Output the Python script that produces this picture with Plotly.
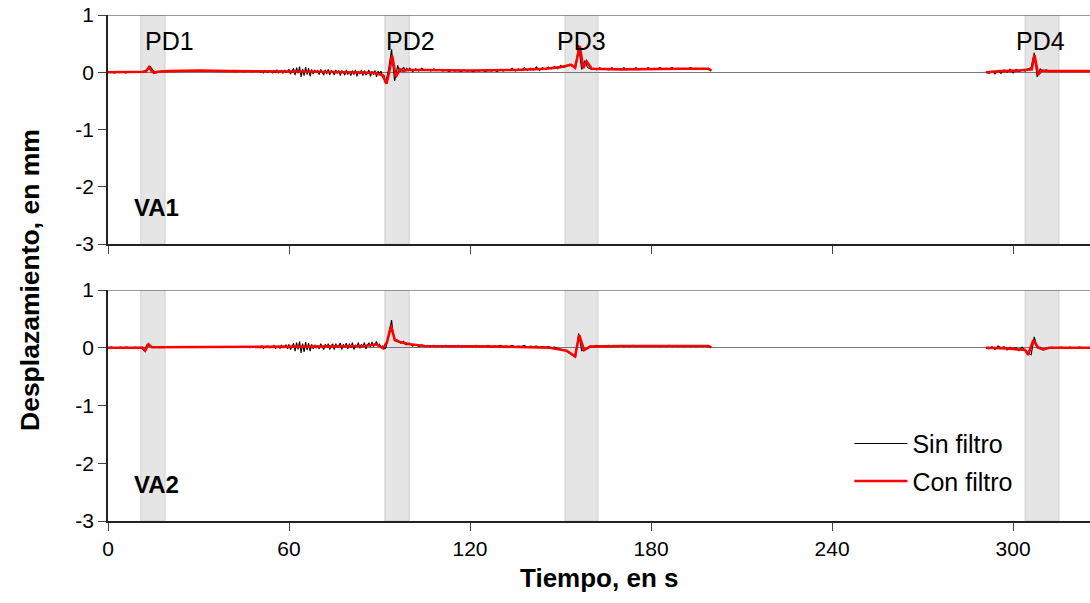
import numpy as np
import plotly.graph_objects as go
from plotly.subplots import make_subplots

FONT = "Liberation Sans, Arial, sans-serif"

# Sampling grid of the unfiltered records: 1 s, densified to 0.5 s between 50 and 100 s,
# with a second acquisition block after the pause
t_raw_a = np.concatenate([np.arange(0, 50, 1.0), np.arange(50, 100, 0.5), np.arange(100, 201, 1.0)])
t_raw_b = np.arange(291, 327, 1.0)

# VA1, unfiltered displacement (mm)
va1_raw_a = [
    # 0-49 s
    0.00, 0.01, -0.01, 0.00, 0.01, 0.00, -0.01, 0.01, 0.00, 0.00,
    0.00, 0.01, 0.02, 0.05, 0.10, 0.03, -0.01, 0.01, 0.02, 0.01,
    0.02, 0.02, 0.01, 0.02, 0.02, 0.03, 0.02, 0.03, 0.03, 0.02,
    0.03, 0.03, 0.02, 0.03, 0.03, 0.02, 0.02, 0.03, 0.02, 0.02,
    0.02, 0.02, 0.01, 0.02, 0.02, 0.01, 0.02, 0.02, 0.01, 0.02,
    # 50-99.5 s
    0.03, 0.00, 0.02, -0.01, 0.03, 0.01, 0.00, 0.03, 0.02, -0.01,
    0.03, 0.00, 0.04, -0.01, 0.02, 0.03, -0.02, 0.04, 0.00, 0.02,
    0.05, -0.03, 0.03, 0.07, -0.05, 0.08, -0.02, 0.10, -0.08, 0.06,
    -0.06, 0.09, -0.04, 0.07, -0.07, 0.05, -0.03, 0.04, 0.00, 0.03,
    -0.04, 0.05, 0.00, -0.05, 0.04, -0.03, 0.05, -0.05, 0.03, 0.01,
    -0.05, 0.04, -0.02, 0.03, -0.06, 0.03, 0.00, -0.05, 0.04, -0.04,
    0.02, -0.06, 0.03, -0.04, 0.04, -0.07, 0.02, -0.03, 0.04, -0.06,
    0.03, -0.05, -0.02, 0.04, -0.07, 0.02, -0.04, 0.03, -0.08, 0.02,
    -0.03, 0.02, -0.08, -0.05, -0.20, -0.10, 0.05, 0.22, 0.40, 0.10,
    -0.15, -0.05, 0.12, 0.04, 0.02, 0.06, 0.08, 0.03, 0.07, 0.03,
    # 100-200 s
    0.07, 0.01, 0.06, 0.02, 0.07, 0.03, 0.05, 0.02, 0.06, 0.03,
    0.05, 0.02, 0.04, 0.01, 0.04, 0.02, 0.03, 0.01, 0.04, 0.02,
    0.03, 0.01, 0.03, 0.02, 0.04, 0.01, 0.03, 0.02, 0.04, 0.01,
    0.05, 0.02, 0.05, 0.03, 0.07, 0.02, 0.06, 0.03, 0.08, 0.03,
    0.07, 0.04, 0.09, 0.03, 0.08, 0.05, 0.09, 0.06, 0.10, 0.06,
    0.12, 0.08, 0.11, 0.14, 0.10, 0.08, 0.47, 0.05, 0.20, 0.08,
    0.06, 0.07, 0.04, 0.08, 0.05, 0.07, 0.04, 0.08, 0.05, 0.07,
    0.05, 0.08, 0.04, 0.07, 0.05, 0.08, 0.04, 0.07, 0.05, 0.08,
    0.05, 0.07, 0.06, 0.08, 0.05, 0.07, 0.06, 0.08, 0.05, 0.07,
    0.06, 0.07, 0.05, 0.08, 0.06, 0.07, 0.05, 0.07, 0.06, 0.07,
    0.03,
]
va1_raw_b = [
    0.00, -0.02, 0.02, -0.03, 0.03, -0.02, 0.04, 0.00, 0.05, -0.01,
    0.05, 0.01, 0.04, 0.02, 0.06, 0.08, 0.34, -0.08, 0.06, 0.02,
    0.04, 0.01, 0.03, 0.02, 0.03, 0.01, 0.03, 0.02, 0.03, 0.01,
    0.03, 0.02, 0.03, 0.01, 0.03, 0.02,
]

# VA2, unfiltered displacement (mm)
va2_raw_a = [
    # 0-49 s
    0.00, 0.01, 0.00, -0.01, 0.01, 0.00, 0.01, 0.00, -0.01, 0.01,
    0.00, 0.01, -0.05, 0.06, 0.02, 0.01, 0.02, 0.00, 0.01, 0.01,
    0.01, 0.01, 0.00, 0.01, 0.01, 0.01, 0.00, 0.01, 0.01, 0.00,
    0.01, 0.00, 0.01, 0.01, 0.00, 0.01, 0.01, 0.00, 0.01, 0.01,
    0.01, 0.00, 0.01, 0.01, 0.00, 0.01, 0.02, 0.00, 0.01, 0.02,
    # 50-99.5 s
    0.02, 0.00, 0.03, -0.01, 0.02, 0.01, 0.03, 0.00, 0.02, 0.01,
    0.04, -0.01, 0.02, 0.03, -0.01, 0.04, 0.00, 0.02, 0.05, -0.02,
    0.06, -0.03, 0.04, 0.08, -0.06, 0.09, -0.03, 0.11, -0.09, 0.07,
    -0.07, 0.10, -0.04, 0.08, -0.06, 0.06, -0.02, 0.05, 0.00, 0.04,
    -0.02, 0.07, 0.02, -0.03, 0.06, 0.00, 0.07, -0.03, 0.04, 0.06,
    -0.03, 0.07, 0.00, 0.04, 0.08, -0.03, 0.06, 0.01, 0.08, -0.02,
    0.07, 0.00, 0.09, -0.03, 0.05, 0.02, 0.09, -0.01, 0.06, 0.02,
    0.09, -0.02, 0.05, 0.08, 0.01, 0.10, 0.02, 0.06, 0.11, 0.03,
    0.06, 0.01, 0.03, -0.02, -0.01, 0.08, 0.20, 0.35, 0.48, 0.25,
    0.15, 0.14, 0.13, 0.10, 0.08, 0.09, 0.11, 0.06, 0.05, 0.07,
    # 100-200 s
    0.08, 0.03, 0.06, 0.02, 0.05, 0.02, 0.04, 0.02, 0.04, 0.02,
    0.03, 0.02, 0.04, 0.02, 0.03, 0.02, 0.04, 0.02, 0.03, 0.02,
    0.03, 0.02, 0.04, 0.02, 0.03, 0.02, 0.04, 0.01, 0.03, 0.02,
    0.04, 0.02, 0.03, 0.02, 0.04, 0.01, 0.03, 0.02, 0.04, 0.01,
    0.03, 0.02, 0.03, 0.01, 0.02, 0.01, 0.02, 0.00, 0.01, -0.01,
    -0.02, -0.04, -0.06, -0.09, -0.13, -0.16, 0.25, -0.05, -0.02, 0.01,
    0.03, 0.02, 0.04, 0.02, 0.03, 0.02, 0.04, 0.02, 0.03, 0.02,
    0.03, 0.02, 0.03, 0.02, 0.04, 0.02, 0.03, 0.02, 0.03, 0.02,
    0.03, 0.02, 0.03, 0.02, 0.03, 0.02, 0.04, 0.02, 0.03, 0.02,
    0.03, 0.02, 0.03, 0.02, 0.03, 0.02, 0.03, 0.02, 0.03, 0.02,
    0.01,
]
va2_raw_b = [
    0.00, -0.02, 0.02, -0.03, 0.03, 0.00, 0.02, -0.04, 0.01, -0.02,
    0.00, -0.05, 0.01, -0.04, -0.10, -0.12, 0.19, 0.00, 0.01, -0.04,
    0.00, -0.01, 0.01, -0.01, 0.00, 0.01, -0.01, 0.00, 0.01, -0.01,
    0.00, 0.01, 0.00, -0.01, 0.00, 0.00,
]

# Filtered records: time (s) and displacement (mm)
va1_filt_t_a = [0, 10, 12.5, 13.6, 14.5, 15.2, 16.5, 20, 30, 40, 50, 60, 70, 80,
                88, 91, 92.3, 93.2, 94.2, 95.4, 96.8, 97.8, 99, 105, 120, 135,
                145, 150, 153.6, 154.8, 156.4, 157.5, 158.6, 160.3, 170, 190, 199, 200]
va1_filt_y_a = [0.00, 0.00, 0.01, 0.09, 0.02, -0.01, 0.01, 0.02, 0.03, 0.02, 0.02, 0.02,
                0.01, 0.00, -0.01, -0.05, -0.20, 0.00, 0.29, -0.08, 0.05, 0.02, 0.04,
                0.04, 0.03, 0.04, 0.06, 0.09, 0.13, 0.08, 0.46, 0.07, 0.19, 0.06,
                0.05, 0.06, 0.06, 0.03]
va1_filt_t_b = [291, 296, 302, 305, 306.2, 307.1, 308.3, 309.5, 312, 326]
va1_filt_y_b = [0.00, 0.02, 0.03, 0.04, 0.05, 0.30, -0.04, 0.03, 0.02, 0.02]

va2_filt_t_a = [0, 10, 11.5, 12.3, 13.4, 14.5, 20, 50, 70, 85, 89, 91.2, 92.5, 93.8,
                95.1, 96.8, 100, 105, 130, 146.5, 152, 154.8, 156.2, 157.8, 159.8,
                170, 199, 200]
va2_filt_y_a = [0.00, 0.00, 0.00, -0.05, 0.06, 0.01, 0.01, 0.01, 0.02, 0.03, 0.06,
                -0.01, 0.10, 0.38, 0.13, 0.10, 0.06, 0.03, 0.02, 0.00, -0.05, -0.15,
                0.22, -0.04, 0.02, 0.03, 0.03, 0.01]
va2_filt_t_b = [291, 298, 302, 304, 305, 306.7, 308.3, 310, 312, 326]
va2_filt_y_b = [0.00, -0.01, -0.03, -0.04, -0.12, 0.13, 0.00, -0.03, 0.00, 0.00]

# Discharge windows (s) and their labels
pd_labels = ["PD1", "PD2", "PD3", "PD4"]
pd_start = [10.9, 91.8, 151.5, 304.0]
pd_end = [18.9, 99.8, 162.4, 315.2]
pd_label_x = [20.5, 100.4, 156.8, 309.2]

x_ticks = [0, 60, 120, 180, 240, 300]
y_ticks = [1, 0, -1, -2, -3]
y_tick_text = ["1", "0", "-1", "-2", "-3"]

fig = make_subplots(rows=2, cols=1, shared_xaxes=False, vertical_spacing=0.0)


def gap_join(t_a, y_a, t_b, y_b):
    """Join two blocks with a break so the line is not drawn across the gap."""
    t = list(t_a) + [None] + list(t_b)
    y = list(y_a) + [None] + list(y_b)
    return t, y


panels = [
    (1, va1_raw_a, va1_raw_b, va1_filt_t_a, va1_filt_y_a, va1_filt_t_b, va1_filt_y_b),
    (2, va2_raw_a, va2_raw_b, va2_filt_t_a, va2_filt_y_a, va2_filt_t_b, va2_filt_y_b),
]

for row, raw_a, raw_b, ft_a, fy_a, ft_b, fy_b in panels:
    tr, yr = gap_join(t_raw_a, raw_a, t_raw_b, raw_b)
    tf, yf = gap_join(ft_a, fy_a, ft_b, fy_b)
    fig.add_trace(go.Scatter(
        x=tr, y=yr, mode="lines", name="Sin filtro",
        line=dict(color="black", width=1.1),
        showlegend=(row == 2), legendgroup="raw",
    ), row=row, col=1)
    fig.add_trace(go.Scatter(
        x=tf, y=yf, mode="lines", name="Con filtro",
        line=dict(color="#ff0000", width=2.6),
        showlegend=(row == 2), legendgroup="filt",
    ), row=row, col=1)

# Shaded discharge windows in both panels
for xref, yref in [("x", "y"), ("x2", "y2")]:
    for s, e in zip(pd_start, pd_end):
        fig.add_shape(type="rect", xref=xref, yref=yref, x0=s, x1=e, y0=-3, y1=1,
                      fillcolor="#e5e5e5", line=dict(color="#cfcfcf", width=1),
                      layer="below")
    # grey frame line along the top of each panel
    fig.add_shape(type="line", xref=xref, yref=yref, x0=0, x1=325.5, y0=1, y1=1,
                  line=dict(color="#777777", width=1.5), layer="above")

for lab, xl in zip(pd_labels, pd_label_x):
    fig.add_annotation(x=xl, y=0.55, xref="x", yref="y", text=lab, showarrow=False,
                       font=dict(family=FONT, size=25, color="black"))

fig.add_annotation(x=7.8, y=-2.37, xref="x", yref="y", text="<b>VA1</b>", showarrow=False,
                   xanchor="left", font=dict(family=FONT, size=24, color="black"))
fig.add_annotation(x=7.8, y=-2.36, xref="x2", yref="y2", text="<b>VA2</b>", showarrow=False,
                   xanchor="left", font=dict(family=FONT, size=24, color="black"))

# axis titles, positioned in pixels and converted to paper coordinates
plot_w, plot_h = 1090 - 108, 603 - 15 - 82
fig.add_annotation(x=(30 - 108) / plot_w, y=(603 - 82 - 280) / plot_h,
                   xref="paper", yref="paper", xanchor="center", yanchor="middle",
                   text="<b>Desplazamiento, en mm</b>", textangle=-90, showarrow=False,
                   font=dict(family=FONT, size=26.5, color="black"))
fig.add_annotation(x=(599 - 108) / plot_w, y=(603 - 82 - 578) / plot_h,
                   xref="paper", yref="paper", xanchor="center", yanchor="middle",
                   text="<b>Tiempo, en s</b>", showarrow=False,
                   font=dict(family=FONT, size=26, color="black"))

axis_common = dict(showgrid=False, ticks="outside", ticklen=8, tickwidth=1,
                   tickcolor="#444444", showline=True, linecolor="#222222", linewidth=1.5)

fig.update_xaxes(range=[0, 325.5], tickvals=x_ticks, **axis_common)
fig.update_xaxes(showticklabels=False, row=1, col=1)
fig.update_xaxes(showticklabels=True, row=2, col=1,
                 tickfont=dict(family=FONT, size=21, color="black"))
fig.update_yaxes(range=[-3, 1], tickvals=y_ticks, ticktext=y_tick_text, zeroline=True,
                 zerolinecolor="#777777", zerolinewidth=1,
                 tickfont=dict(family=FONT, size=21, color="black"), **axis_common)

fig.update_layout(
    width=1090, height=603,
    margin=dict(l=108, r=0, t=15, b=82),
    plot_bgcolor="white", paper_bgcolor="white",
    xaxis=dict(domain=[0, 1]),
    yaxis=dict(domain=[0.5474, 1.0]),
    yaxis2=dict(domain=[0.0, 0.4565]),
    legend=dict(x=0.755, y=0.198, xanchor="left", yanchor="top",
                font=dict(family=FONT, size=25, color="black"),
                bgcolor="rgba(0,0,0,0)", tracegroupgap=2, itemwidth=53),
    font=dict(family=FONT),
)

fig.write_html("out.html")
